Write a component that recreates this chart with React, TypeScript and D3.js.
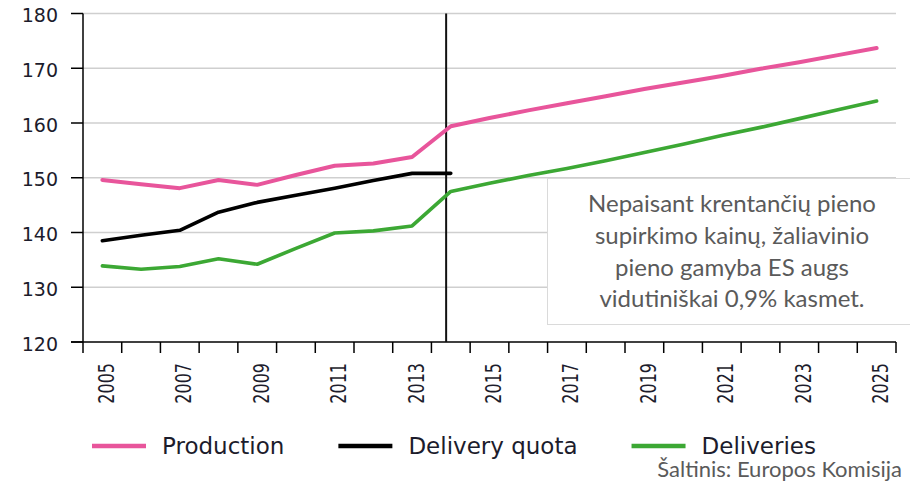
import React from "react";
import * as d3 from "d3";

const years = [
  "2005", "2006", "2007", "2008", "2009", "2010", "2011", "2012", "2013", "2014", "2015",
  "2016", "2017", "2018", "2019", "2020", "2021", "2022", "2023", "2024", "2025",
];
const yearLabels = ["2005", "2007", "2009", "2011", "2013", "2015", "2017", "2019", "2021", "2023", "2025"];
const yTicks = [120, 130, 140, 150, 160, 170, 180];

const production = [
  149.6, 148.8, 148.1, 149.6, 148.7, 150.5, 152.2, 152.6, 153.8, 159.4, 160.9,
  162.3, 163.6, 164.9, 166.2, 167.4, 168.6, 169.9, 171.1, 172.4, 173.7,
];
const deliveryQuota = [138.5, 139.5, 140.4, 143.7, 145.5, 146.8, 148.1, 149.5, 150.8, 150.8];
const deliveries = [
  133.9, 133.3, 133.8, 135.2, 134.2, 137.1, 139.9, 140.3, 141.2, 147.5, 149.0,
  150.4, 151.7, 153.1, 154.6, 156.1, 157.7, 159.2, 160.8, 162.4, 164.0,
];

const seriesNames = ["Production", "Delivery quota", "Deliveries"];
const seriesColors = ["#e8559b", "#000000", "#3ca834"];

const noteLines = [
  "Nepaisant krentančių pieno",
  "supirkimo kainų, žaliavinio",
  "pieno gamyba ES augs",
  "vidutiniškai 0,9% kasmet.",
];
const sourceText = "Šaltinis: Europos Komisija";

export default function App() {
  const svgRef = React.useRef<SVGSVGElement>(null);
  const width = 910;
  const height = 485;
  const margin = { top: 13.5, right: 14, bottom: 143, left: 83 };

  React.useEffect(() => {
    const svg = d3.select(svgRef.current);
    svg.selectAll("*").remove();

    const x = d3
      .scaleBand<string>()
      .domain(years)
      .range([margin.left, width - margin.right])
      .padding(0);
    const y = d3
      .scaleLinear()
      .domain([120, 180])
      .range([height - margin.bottom, margin.top]);
    const cx = (yr: string) => (x(yr) as number) + x.bandwidth() / 2;
    const axisFont = "'DejaVu Sans', Verdana, sans-serif";
    const noteFont = "Lato, 'Open Sans', sans-serif";
    const textColor = "#1c1c2c";

    /* grid */
    svg
      .append("g")
      .selectAll("line")
      .data(yTicks.filter((d) => d > 120))
      .enter()
      .append("line")
      .attr("x1", margin.left)
      .attr("x2", width - margin.right)
      .attr("y1", (d) => y(d))
      .attr("y2", (d) => y(d))
      .attr("stroke", "#cfcfcf")
      .attr("stroke-width", 1.3);

    /* y axis */
    const yAxis = svg.append("g");
    yAxis
      .append("line")
      .attr("x1", margin.left)
      .attr("x2", margin.left)
      .attr("y1", y(180))
      .attr("y2", y(120))
      .attr("stroke", "#000")
      .attr("stroke-width", 1.5);
    yAxis
      .selectAll(".tick")
      .data(yTicks)
      .enter()
      .append("line")
      .attr("x1", margin.left - 12)
      .attr("x2", margin.left)
      .attr("y1", (d) => y(d))
      .attr("y2", (d) => y(d))
      .attr("stroke", "#000")
      .attr("stroke-width", 1.5);
    yAxis
      .selectAll("text")
      .data(yTicks)
      .enter()
      .append("text")
      .attr("x", 58)
      .attr("y", (d) => y(d) + 2)
      .attr("dy", "0.35em")
      .attr("text-anchor", "end")
      .attr("font-family", axisFont)
      .attr("font-size", 19)
      .attr("fill", textColor)
      .text((d) => d);

    /* x axis */
    const xAxis = svg.append("g");
    const boundaries = years.map((d) => x(d) as number).concat([width - margin.right]);
    xAxis
      .append("line")
      .attr("x1", margin.left - 12)
      .attr("x2", width - margin.right)
      .attr("y1", y(120))
      .attr("y2", y(120))
      .attr("stroke", "#000")
      .attr("stroke-width", 1.5);
    xAxis
      .selectAll(".tick")
      .data(boundaries)
      .enter()
      .append("line")
      .attr("x1", (d) => d)
      .attr("x2", (d) => d)
      .attr("y1", y(120))
      .attr("y2", y(120) + 11)
      .attr("stroke", "#000")
      .attr("stroke-width", 1.5);
    xAxis
      .selectAll("text")
      .data(yearLabels)
      .enter()
      .append("text")
      .attr("transform", (d) => `translate(${cx(d) + 4}, ${y(120) + 21}) rotate(-90) scale(1, 1.3)`)
      .attr("dy", "0.36em")
      .attr("text-anchor", "end")
      .attr("font-family", axisFont)
      .attr("font-size", 16)
      .attr("fill", textColor)
      .text((d) => d);

    /* separator */
    svg
      .append("line")
      .attr("x1", (x("2014") as number) + x.bandwidth() * 0.38)
      .attr("x2", (x("2014") as number) + x.bandwidth() * 0.38)
      .attr("y1", y(180))
      .attr("y2", y(120))
      .attr("stroke", "#111")
      .attr("stroke-width", 2);

    /* lines */
    const line = d3
      .line<number>()
      .x((d, i) => cx(years[i]))
      .y((d) => y(d));
    [production, deliveryQuota, deliveries].forEach((values, i) => {
      svg
        .append("path")
        .attr("d", line(values))
        .attr("fill", "none")
        .attr("stroke", seriesColors[i])
        .attr("stroke-width", i === 0 ? 4 : 3.6)
        .attr("stroke-linejoin", "round")
        .attr("stroke-linecap", "round");
    });

    /* note box */
    const note = svg.append("g");
    note
      .append("rect")
      .attr("x", 547.5)
      .attr("y", 178.5)
      .attr("width", 370)
      .attr("height", 146)
      .attr("fill", "#fff")
      .attr("stroke", "#dadada")
      .attr("stroke-width", 1);
    note
      .selectAll("text")
      .data(noteLines)
      .enter()
      .append("text")
      .attr("x", 732)
      .attr("y", (d, i) => 212 + i * 31.8)
      .attr("text-anchor", "middle")
      .attr("font-family", noteFont)
      .attr("font-size", 24)
      .attr("fill", "#5a5a5a")
      .text((d) => d);

    /* legend */
    const legend = svg.append("g");
    let pos = 92;
    seriesNames.forEach((name, i) => {
      legend
        .append("line")
        .attr("x1", pos)
        .attr("x2", pos + 54)
        .attr("y1", 446)
        .attr("y2", 446)
        .attr("stroke", seriesColors[i])
        .attr("stroke-width", 4.5);
      const t = legend
        .append("text")
        .attr("x", pos + 70)
        .attr("y", 454)
        .attr("font-family", axisFont)
        .attr("font-size", 23)
        .attr("fill", textColor)
        .text(name);
      const len = (t.node() as SVGTextElement).getComputedTextLength();
      pos = pos + 70 + len + 54;
    });

    /* source */
    svg
      .append("text")
      .attr("x", 902)
      .attr("y", 477)
      .attr("text-anchor", "end")
      .attr("font-family", noteFont)
      .attr("font-size", 22)
      .attr("fill", "#5a5a5a")
      .text(sourceText);
    // eslint-disable-next-line
  }, []);

  return (
    <svg
      ref={svgRef}
      width={width}
      height={height}
      style={{ position: "absolute", left: 0, top: 0, background: "#fff" }}
    />
  );
}
